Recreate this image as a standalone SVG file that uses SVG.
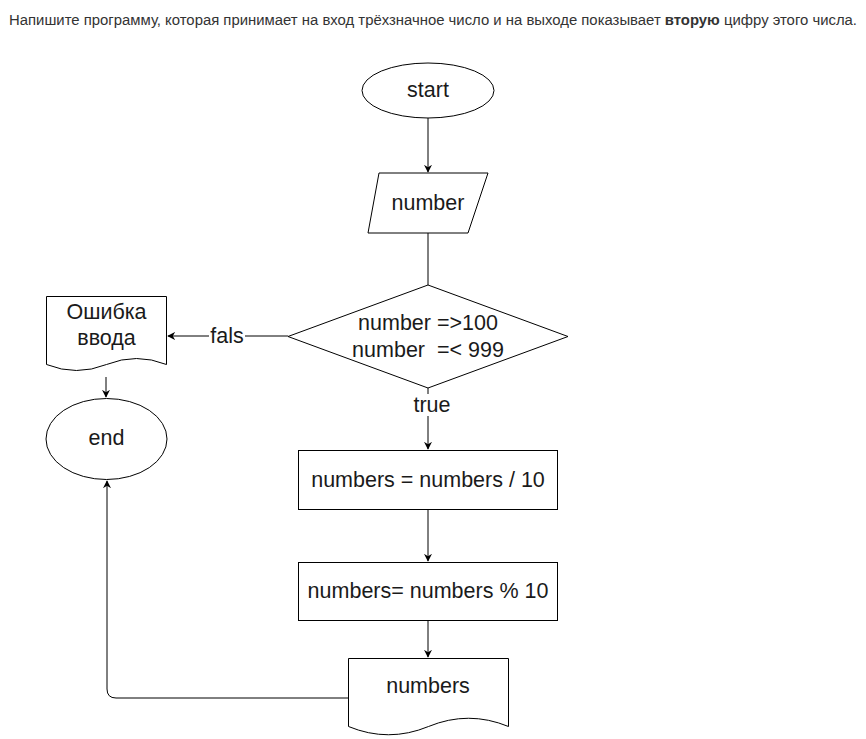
<svg xmlns="http://www.w3.org/2000/svg" width="866" height="739" viewBox="0 0 866 739">
  <style>
    .shape { fill: #ffffff; stroke: #000000; stroke-width: 1; }
    .edge { fill: none; stroke: #000000; stroke-width: 1; }
    .lbl { font-family: "Liberation Sans", Arial, sans-serif; font-size: 21.5px; fill: #1a1a1a; text-anchor: middle; dominant-baseline: central; }
    .title { font-family: "Liberation Sans", Arial, sans-serif; font-size: 14px; fill: #333333; }
  </style>
  <defs>
    <marker id="arrow" viewBox="0 0 10 10" refX="9" refY="5" markerWidth="8" markerHeight="8" markerUnits="userSpaceOnUse" orient="auto">
      <path d="M0,0 L10,5 L0,10 L3,5 Z" fill="#000000"/>
    </marker>
  </defs>

  <text class="title" x="9" y="25" textLength="848" lengthAdjust="spacingAndGlyphs">Напишите программу, которая принимает на вход трёхзначное число и на выходе показывает <tspan font-weight="bold">вторую</tspan> цифру этого числа.</text>

  <g id="connectors">
    <path class="edge" d="M428,118 L428,172" marker-end="url(#arrow)"/>
    <path class="edge" d="M428,233 L428,285"/>
    <path class="edge" d="M288,336 L168,336" marker-end="url(#arrow)"/>
    <rect x="209" y="325" width="36" height="22" fill="#ffffff"/>
    <text class="lbl" x="227" y="336">fals</text>
    <path class="edge" d="M428,388 L428,449" marker-end="url(#arrow)"/>
    <rect x="408" y="394" width="41" height="22" fill="#ffffff"/>
    <text class="lbl" x="432" y="405">true</text>
    <path class="edge" d="M106,377 L106,397" marker-end="url(#arrow)"/>
    <path class="edge" d="M428,510 L428,561" marker-end="url(#arrow)"/>
    <path class="edge" d="M428,621 L428,657" marker-end="url(#arrow)"/>
    <path class="edge" d="M348,698 L116,698 Q107,698 107,689 L107,481" marker-end="url(#arrow)"/>
  </g>

  <g id="start">
    <ellipse class="shape" cx="428" cy="90.5" rx="66" ry="27.5"/>
    <text class="lbl" x="428" y="90">start</text>
  </g>

  <g id="input-number">
    <path class="shape" d="M379,173 L488,173 L468,233 L368,233 Z"/>
    <text class="lbl" x="428" y="203">number</text>
  </g>

  <g id="check-range">
    <path class="shape" d="M428,285 L568,336.5 L428,388 L288,336.5 Z"/>
    <text class="lbl" x="428" y="323">number =&gt;100</text>
    <text class="lbl" x="428" y="350" style="white-space:pre">number  =&lt; 999</text>
  </g>

  <g id="input-error">
    <path class="shape" d="M46.5,296.5 L166.5,296.5 L166.5,364.5 Q136.5,352.5 106.5,364.5 Q76.5,376.5 46.5,364.5 Z"/>
    <text class="lbl" x="106.5" y="312">Ошибка</text>
    <text class="lbl" x="106.5" y="338">ввода</text>
  </g>

  <g id="end">
    <ellipse class="shape" cx="106.5" cy="439" rx="60.5" ry="40.5"/>
    <text class="lbl" x="106.5" y="438">end</text>
  </g>

  <g id="divide">
    <rect class="shape" x="298.5" y="450.5" width="259" height="59"/>
    <text class="lbl" x="428" y="480">numbers = numbers / 10</text>
  </g>

  <g id="modulo">
    <rect class="shape" x="298.5" y="562.5" width="259" height="58"/>
    <text class="lbl" x="428" y="591">numbers= numbers % 10</text>
  </g>

  <g id="output">
    <path class="shape" d="M348.5,658.5 L508.5,658.5 L508.5,726.5 Q468.5,710 428.5,726.5 Q388.5,743 348.5,726.5 Z"/>
    <text class="lbl" x="428" y="686">numbers</text>
  </g>
</svg>
